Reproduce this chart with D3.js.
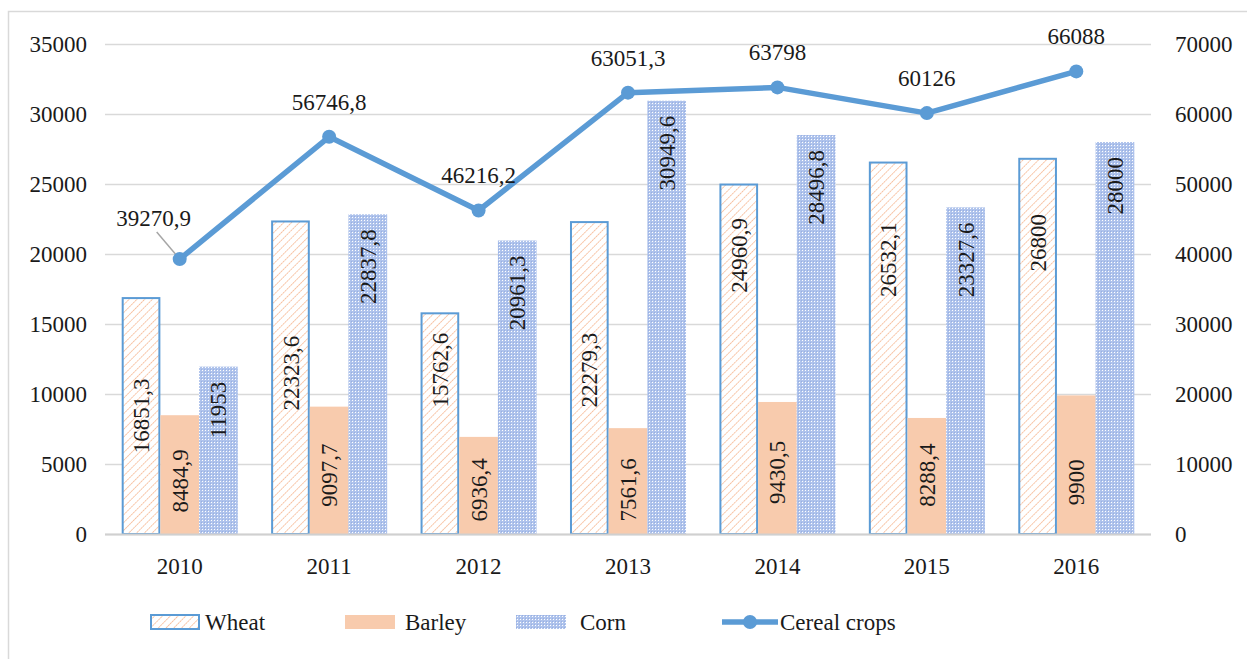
<!DOCTYPE html>
<html>
<head>
<meta charset="utf-8">
<script src="https://cdn.jsdelivr.net/npm/d3@7/dist/d3.min.js"></script>
<style>
  html, body { margin: 0; padding: 0; background: #fff; }
  svg { display: block; }
  svg text { font-family: "Liberation Serif", "DejaVu Serif", serif !important; fill: #1a1a1a; }
</style>
</head>
<body>
<svg id="chart" width="1247" height="659" font-family="Liberation Serif, DejaVu Serif, serif"></svg>
<script>
// ---- data ----
const years = ["2010", "2011", "2012", "2013", "2014", "2015", "2016"];
const wheat = [16851.3, 22323.6, 15762.6, 22279.3, 24960.9, 26532.1, 26800];
const barley = [8484.9, 9097.7, 6936.4, 7561.6, 9430.5, 8288.4, 9900];
const corn = [11953, 22837.8, 20961.3, 30949.6, 28496.8, 23327.6, 28000];
const cereal = [39270.9, 56746.8, 46216.2, 63051.3, 63798, 60126, 66088];
const leftTicks = [0, 5000, 10000, 15000, 20000, 25000, 30000, 35000];
const rightTicks = [0, 10000, 20000, 30000, 40000, 50000, 60000, 70000];
const seriesNames = ["Wheat", "Barley", "Corn", "Cereal crops"];
// label anchors (value units, left axis)
const wheatLabelAt = [8430, 11500, 11700, 11700, 19900, 19600, 20800];
const barleyLabelAt = [3800, 4200, 3150, 3150, 4400, 4200, 3700];

// ---- layout ----
const svg = d3.select("#chart");
const FONT = "Liberation Serif, DejaVu Serif, serif";
const FS = 23;
const L = 105, R = 1151, T = 44, B = 534;
const fmt = v => String(v).replace(".", ",");

const defs = svg.append("defs");
const hatch = defs.append("pattern").attr("id", "hatch")
  .attr("patternUnits", "userSpaceOnUse").attr("width", 5.5).attr("height", 5.5)
  .attr("patternTransform", "rotate(45)");
hatch.append("rect").attr("width", 5.5).attr("height", 5.5).attr("fill", "#fff");
hatch.append("line").attr("x1", 0).attr("y1", 0).attr("x2", 0).attr("y2", 5.5)
  .attr("stroke", "#F6B894").attr("stroke-width", 1.6).attr("stroke-dasharray", "2.2 0.6");
const dots = defs.append("pattern").attr("id", "dots")
  .attr("patternUnits", "userSpaceOnUse").attr("width", 3).attr("height", 3);
dots.append("rect").attr("width", 3).attr("height", 3).attr("fill", "#AFC3EC");
dots.append("rect").attr("x", 1).attr("y", 1).attr("width", 1).attr("height", 1).attr("fill", "#fff");
dots.append("rect").attr("x", 0).attr("y", 0).attr("width", 1).attr("height", 1).attr("fill", "#98B0E2");

// outer frame
svg.append("rect").attr("x", 8.5).attr("y", 11.5).attr("width", 1300).attr("height", 700)
  .attr("fill", "none").attr("stroke", "#D9D9D9").attr("stroke-width", 1.5);

const x = d3.scaleBand().domain(years).range([L, R]).paddingInner(0.2235).paddingOuter(0.11175);
const xs = d3.scaleBand().domain(["w", "b", "c"]).range([0, x.bandwidth()]);
const yL = d3.scaleLinear().domain([0, 35000]).range([B, T]);
const yR = d3.scaleLinear().domain([0, 70000]).range([B, T]);

// gridlines
svg.append("g").attr("transform", `translate(${L},0)`)
  .call(d3.axisLeft(yL).tickValues(leftTicks).tickSize(-(R - L)).tickFormat(""))
  .call(g => g.select(".domain").remove())
  .call(g => g.selectAll("line").attr("stroke", "#D9D9D9").attr("stroke-width", 1.5));

// left axis labels
svg.append("g").attr("transform", `translate(${L},0)`)
  .call(d3.axisLeft(yL).tickValues(leftTicks).tickFormat(d3.format("d")).tickSize(0).tickPadding(18))
  .attr("font-family", FONT)
  .call(g => g.select(".domain").remove())
  .call(g => g.selectAll("text").attr("font-size", FS).attr("fill", "#1a1a1a"));

// right axis labels
svg.append("g").attr("transform", `translate(${R},0)`)
  .call(d3.axisRight(yR).tickValues(rightTicks).tickFormat(d3.format("d")).tickSize(0).tickPadding(24))
  .attr("font-family", FONT)
  .call(g => g.select(".domain").remove())
  .call(g => g.selectAll("text").attr("font-size", FS).attr("fill", "#1a1a1a"));

// bars
const gBars = svg.append("g");
const bw = xs.bandwidth();
gBars.selectAll(".w").data(wheat).join("rect")
  .attr("x", (d, i) => x(years[i]) + xs("w") + 1).attr("y", d => yL(d))
  .attr("width", bw - 2).attr("height", d => B - yL(d))
  .attr("fill", "url(#hatch)").attr("stroke", "#5B9BD5").attr("stroke-width", 2);
gBars.selectAll(".b").data(barley).join("rect")
  .attr("x", (d, i) => x(years[i]) + xs("b")).attr("y", d => yL(d))
  .attr("width", bw).attr("height", d => B - yL(d))
  .attr("fill", "#F8CBAD");
gBars.selectAll(".c").data(corn).join("rect")
  .attr("x", (d, i) => x(years[i]) + xs("c")).attr("y", d => yL(d))
  .attr("width", bw).attr("height", d => B - yL(d))
  .attr("fill", "url(#dots)");

// x axis
svg.append("g").attr("transform", `translate(0,${B})`)
  .call(d3.axisBottom(x).tickSize(0).tickPadding(24))
  .attr("font-family", FONT)
  .call(g => g.select(".domain").attr("stroke", "#D0D0D0").attr("stroke-width", 2)
    .attr("d", `M${L},0.5H${R}`))
  .call(g => g.selectAll("text").attr("font-size", FS).attr("fill", "#1a1a1a"));

// bar labels (rotated)
const gLab = svg.append("g").attr("font-size", FS).attr("font-family", FONT);
gLab.selectAll(".lw").data(wheat).join("text")
  .attr("transform", (d, i) => `translate(${x(years[i]) + xs("w") + bw / 2},${yL(wheatLabelAt[i])}) rotate(-90)`)
  .attr("text-anchor", "middle").attr("dy", "0.35em").text(d => fmt(d));
gLab.selectAll(".lb").data(barley).join("text")
  .attr("transform", (d, i) => `translate(${x(years[i]) + xs("b") + bw / 2},${yL(barleyLabelAt[i])}) rotate(-90)`)
  .attr("text-anchor", "middle").attr("dy", "0.35em").text(d => fmt(d));
gLab.selectAll(".lc").data(corn).join("text")
  .attr("transform", (d, i) => `translate(${x(years[i]) + xs("c") + bw / 2},${yL(d) + 15}) rotate(-90)`)
  .attr("text-anchor", "end").attr("dy", "0.35em").text(d => fmt(d));

// line
const cx = i => x(years[i]) + x.bandwidth() / 2;
const line = d3.line().x((d, i) => cx(i)).y(d => yR(d));
svg.append("line").attr("x1", cx(0) - 23).attr("y1", yR(cereal[0]) - 27)
  .attr("x2", cx(0)).attr("y2", yR(cereal[0]))
  .attr("stroke", "#A6A6A6").attr("stroke-width", 1.5);
svg.append("path").datum(cereal).attr("d", line)
  .attr("fill", "none").attr("stroke", "#5B9BD5").attr("stroke-width", 5.5).attr("stroke-linejoin", "round");
svg.selectAll(".pt").data(cereal).join("circle")
  .attr("cx", (d, i) => cx(i)).attr("cy", d => yR(d)).attr("r", 7).attr("fill", "#5B9BD5");
svg.append("g").attr("font-size", FS).attr("font-family", FONT).selectAll("text").data(cereal).join("text")
  .attr("x", (d, i) => i === 0 ? cx(i) - 26 : cx(i))
  .attr("y", (d, i) => i === 0 ? yR(d) - 33 : yR(d) - 27)
  .attr("text-anchor", "middle").text(d => fmt(d));

// legend
const lg = svg.append("g").attr("font-size", FS).attr("font-family", FONT);
const lgItems = [
  { name: seriesNames[0], x: 150, type: "w" },
  { name: seriesNames[1], x: 345, type: "b" },
  { name: seriesNames[2], x: 516, type: "c" },
  { name: seriesNames[3], x: 722, type: "l" }
];
const ly = 622;
lgItems.forEach(it => {
  if (it.type === "w") {
    lg.append("rect").attr("x", it.x + 1).attr("y", ly - 7).attr("width", 48).attr("height", 14)
      .attr("fill", "url(#hatch)").attr("stroke", "#5B9BD5").attr("stroke-width", 2);
    lg.append("text").attr("x", it.x + 55).attr("y", ly).attr("dy", "0.35em").text(it.name);
  } else if (it.type === "b") {
    lg.append("rect").attr("x", it.x).attr("y", ly - 7).attr("width", 50).attr("height", 14).attr("fill", "#F8CBAD");
    lg.append("text").attr("x", it.x + 60).attr("y", ly).attr("dy", "0.35em").text(it.name);
  } else if (it.type === "c") {
    lg.append("rect").attr("x", it.x).attr("y", ly - 7).attr("width", 50).attr("height", 14).attr("fill", "url(#dots)");
    lg.append("text").attr("x", it.x + 64).attr("y", ly).attr("dy", "0.35em").text(it.name);
  } else {
    lg.append("line").attr("x1", it.x).attr("x2", it.x + 56).attr("y1", ly).attr("y2", ly)
      .attr("stroke", "#5B9BD5").attr("stroke-width", 5.5);
    lg.append("circle").attr("cx", it.x + 28).attr("cy", ly).attr("r", 7).attr("fill", "#5B9BD5");
    lg.append("text").attr("x", it.x + 58).attr("y", ly).attr("dy", "0.35em").text(it.name);
  }
});
</script>
</body>
</html>
